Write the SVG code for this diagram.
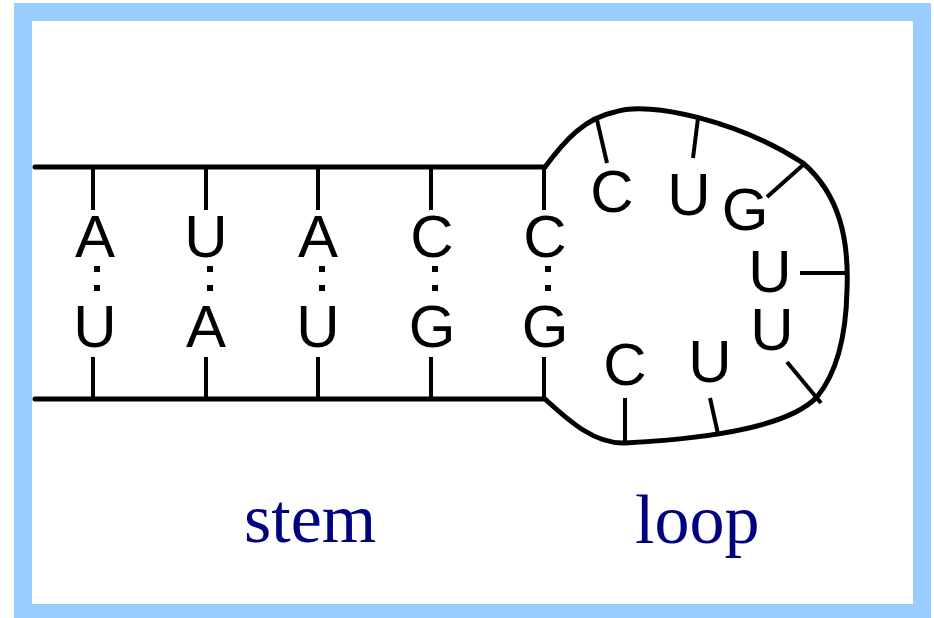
<svg xmlns="http://www.w3.org/2000/svg" width="934" height="618" viewBox="0 0 934 618">
  <style>
    .frame { fill: #ffffff; stroke: #99ccff; stroke-width: 18; }
    .strand { fill: none; stroke: #000; stroke-width: 5; stroke-linecap: round; stroke-linejoin: round; }
    .tick { fill: none; stroke: #000; stroke-width: 4; }
    .bond { fill: none; stroke: #000; stroke-width: 6; stroke-dasharray: 6 13; }
    .base { font-family: "Liberation Sans", Arial, sans-serif; font-size: 60px; fill: #000; text-anchor: middle; }
    .label { font-family: "Liberation Serif", "Times New Roman", serif; font-size: 70px; fill: #000080; }
  </style>

  <!-- outer frame -->
  <rect class="frame" x="23" y="12" width="899" height="601"/>

  <!-- backbone strands and base ticks -->
  <g id="connectors">
    <path id="strand-top" class="strand" d="M35 167 H545"/>
    <path id="strand-bottom" class="strand" d="M35 399 H545"/>
    <path id="hairpin-loop" class="strand" d="M545 167 C565 140 585 118 615 112 C650 100 740 122 803 163 C840 195 849 240 847 290 C846 340 835 375 817 397 C790 425 720 438 625 443 C595 444 570 422 545 399"/>

    <!-- stem ticks -->
    <path class="tick" d="M93 167 V210 M206 167 V210 M318 167 V210 M431 167 V210 M544 167 V210"/>
    <path class="tick" d="M93 357 V399 M206 357 V399 M318 357 V399 M431 357 V399 M544 357 V399"/>

    <!-- loop ticks -->
    <path class="tick" d="M597 120 L607 163"/>
    <path class="tick" d="M698 118 L693 158"/>
    <path class="tick" d="M803 165 L767 197"/>
    <path class="tick" d="M847 273 L800 273"/>
    <path class="tick" d="M821 403 L787 362"/>
    <path class="tick" d="M718 434 L710 398"/>
    <path class="tick" d="M625 443 L625 398"/>

    <!-- base-pair bonds -->
    <path class="bond" d="M97 266 V293 M210 266 V293 M322 266 V293 M435 266 V293 M548 266 V293"/>
  </g>

  <!-- stem base pairs -->
  <g id="pair-1">
    <text class="base" x="95" y="257">A</text>
    <text class="base" x="95" y="347">U</text>
  </g>
  <g id="pair-2">
    <text class="base" x="206" y="257">U</text>
    <text class="base" x="206" y="347">A</text>
  </g>
  <g id="pair-3">
    <text class="base" x="318" y="257">A</text>
    <text class="base" x="318" y="347">U</text>
  </g>
  <g id="pair-4">
    <text class="base" x="432" y="257">C</text>
    <text class="base" x="432" y="347">G</text>
  </g>
  <g id="pair-5">
    <text class="base" x="545" y="257">C</text>
    <text class="base" x="545" y="347">G</text>
  </g>

  <!-- loop bases -->
  <g id="loop-bases">
    <text class="base" x="612" y="212">C</text>
    <text class="base" x="689" y="215">U</text>
    <text class="base" x="745" y="230">G</text>
    <text class="base" x="770" y="292">U</text>
    <text class="base" x="772" y="350">U</text>
    <text class="base" x="710" y="382">U</text>
    <text class="base" x="625" y="385">C</text>
  </g>

  <!-- region labels -->
  <g id="label-stem"><text class="label" x="244" y="542">stem</text></g>
  <g id="label-loop"><text class="label" x="635" y="543">loop</text></g>
</svg>
